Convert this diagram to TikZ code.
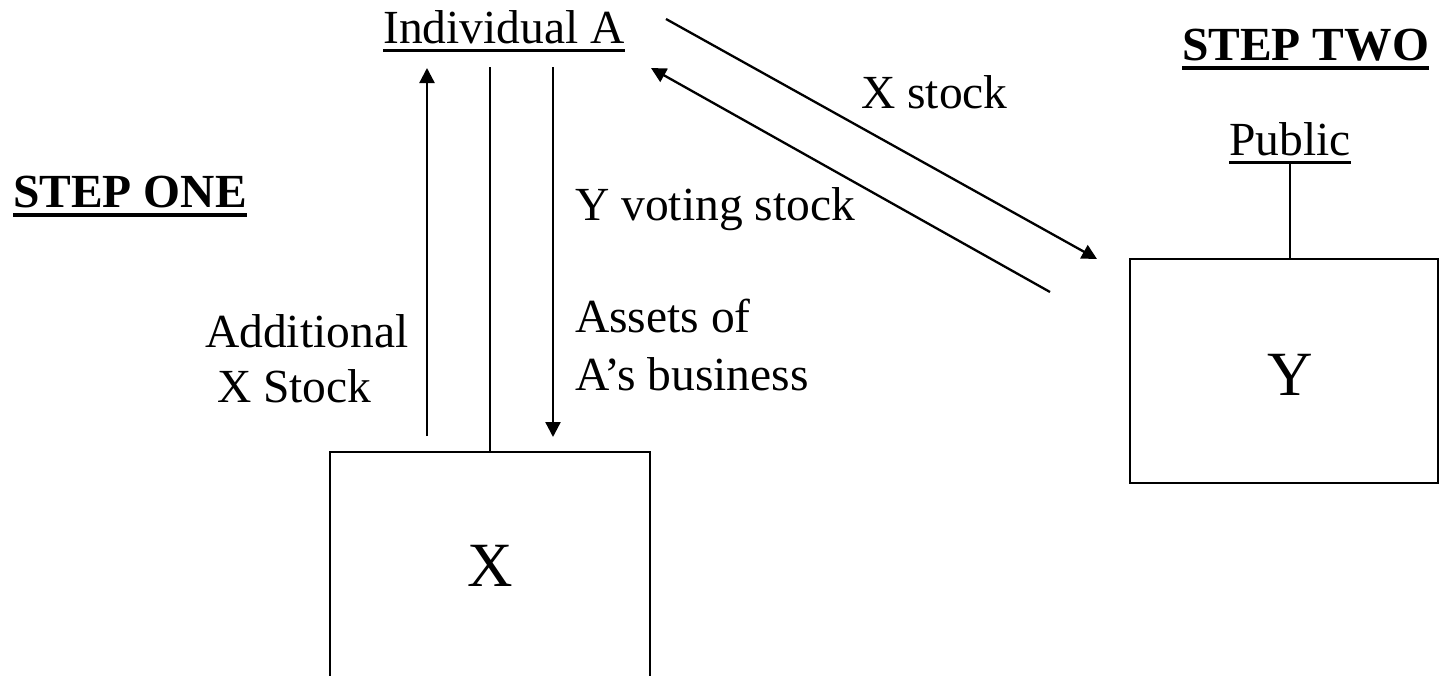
\documentclass[tikz,border=0pt]{standalone}
\usepackage{fontspec}
\setmainfont{Liberation Serif}
\usetikzlibrary{arrows.meta}

% underlined text with a rule of chosen depth and thickness
\newlength\ulwidth
\newcommand{\ultext}[3]{\settowidth\ulwidth{#3}\rlap{\rule[#1]{\ulwidth}{#2}}#3}

\begin{document}
\begin{tikzpicture}[x=1pt,y=-1pt,
  txt/.style={inner sep=0pt,anchor=base west,font=\fontsize{47.5}{56}\selectfont},
  bigtxt/.style={inner sep=0pt,anchor=base,font=\fontsize{63}{70}\selectfont},
  boxshape/.style={draw,line width=2.8pt,inner sep=0pt},
  link/.style={line width=2.3pt},
  arr/.style={line width=2.3pt,-{Triangle[length=15pt,width=15pt]}}]
\clip (0,0) rectangle (1439,675);

% headings
\node[txt,font=\fontsize{47.5}{56}\selectfont\bfseries] (stepone) at (13,207) {\ultext{-10pt}{4.5pt}{STEP ONE}};
\node[txt,font=\fontsize{47.5}{56}\selectfont\bfseries] (steptwo) at (1182,60) {\ultext{-10pt}{4.5pt}{STEP TWO}};

% parties
\node[txt] (indA) at (383,43) {\ultext{-8.5pt}{2.8pt}{Individual A}};
\node[txt] (public) at (1229,155) {\ultext{-8.5pt}{2.8pt}{Public}};

% corporations
\node[boxshape,minimum width=320pt,minimum height=228pt,font=\fontsize{63}{70}\selectfont] (boxX) at (490,566) {X};
\node[boxshape,minimum width=308pt,minimum height=224pt] (boxY) at (1284,371) {};
\node[bigtxt] (ylab) at (1290,395) {Y};

% step one transfers
\coordinate (upS) at (427,436);
\coordinate (upE) at (427,68);
\coordinate (midE) at (490,67);
\coordinate (dnS) at (553,67);
\coordinate (dnE) at (553,437);
\draw[arr] (upS) -- (upE);
\draw[link] (boxX.north) -- (midE);
\draw[arr] (dnS) -- (dnE);

% step two exchange
\coordinate (xsS) at (666,19);
\coordinate (xsE) at (1097,259);
\coordinate (yvS) at (1050,292);
\coordinate (yvE) at (651,68);
\draw[arr] (xsS) -- (xsE);
\draw[arr] (yvS) -- (yvE);

% public holds Y
\draw[link] (public.south -| 1290,0) -- (boxY.north -| 1290,0);

% labels
\node[txt] (lAdd1) at (205,347) {Additional};
\node[txt] (lAdd2) at (217,402) {X Stock};
\node[txt] (lYv) at (575,220) {Y voting stock};
\node[txt] (lAs1) at (575,332) {Assets of};
\node[txt] (lAs2) at (575,390) {A’s business};
\node[txt] (lXs) at (861,108) {X stock};
\end{tikzpicture}
\end{document}
